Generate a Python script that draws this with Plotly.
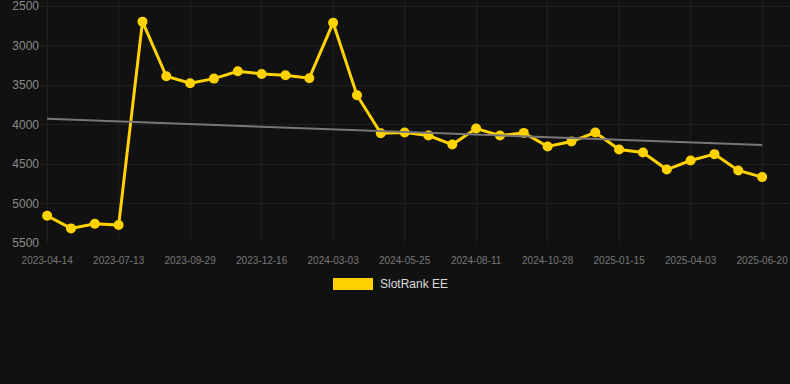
import plotly.graph_objects as go

dates = [
    "2023-04-14", "2023-05-14", "2023-06-13", "2023-07-13", "2023-08-08", "2023-09-03",
    "2023-09-29", "2023-10-25", "2023-11-20", "2023-12-16", "2024-01-11", "2024-02-06",
    "2024-03-03", "2024-03-31", "2024-04-28", "2024-05-25", "2024-06-20", "2024-07-16",
    "2024-08-11", "2024-09-06", "2024-10-02", "2024-10-28", "2024-11-23", "2024-12-20",
    "2025-01-15", "2025-02-10", "2025-03-08", "2025-04-03", "2025-04-29", "2025-05-25",
    "2025-06-20",
]
ranks = [
    5155, 5315, 5256, 5273, 2698, 3389, 3477, 3419, 3326, 3360, 3376, 3414,
    2711, 3629, 4110, 4102, 4140, 4254, 4051, 4140, 4106, 4279, 4216, 4102,
    4317, 4355, 4570, 4456, 4375, 4582, 4666,
]
trend_x = [dates[0], dates[-1]]
trend_y = [3928, 4261]
tick_labels = dates[::3]
y_ticks = [2500, 3000, 3500, 4000, 4500, 5000, 5500]
series_name = "SlotRank EE"

BG = "#111111"
GOLD = "#FFD200"
GRID = "#1f1f1f"

fig = go.Figure()
fig.add_trace(go.Scatter(
    x=dates, y=ranks, mode="lines+markers", name=series_name,
    line=dict(color=GOLD, width=3),
    marker=dict(color=GOLD, size=10),
    showlegend=False, hoverinfo="x+y",
))
fig.add_trace(go.Scatter(
    x=trend_x, y=trend_y, mode="lines",
    line=dict(color="#777777", width=2),
    showlegend=False, hoverinfo="skip",
))

# legend drawn as shape + annotation to mimic the filled swatch
L, R, T, B, W, H = 40, 0, 0, 141, 790, 384
pw = W - L - R
ph = H - T - B
def px(x):
    return (x - L) / pw
def py(y):
    return (H - B - y) / ph

fig.add_shape(type="rect", xref="paper", yref="paper",
              x0=px(333), x1=px(373), y0=py(290), y1=py(278),
              fillcolor=GOLD, line=dict(width=0))
fig.add_annotation(xref="paper", yref="paper", x=px(378), y=py(284),
                   text=series_name, showarrow=False, xanchor="left", yanchor="middle",
                   font=dict(family="Liberation Sans, Arial, sans-serif", size=12, color="#dddddd"))

fig.update_layout(
    width=W, height=H,
    margin=dict(l=L, r=R, t=T, b=B),
    paper_bgcolor=BG, plot_bgcolor=BG,
    font=dict(family="Liberation Sans, Arial, sans-serif"),
    showlegend=False,
    xaxis=dict(
        type="category", categoryorder="array", categoryarray=dates,
        range=[-0.3, 31.17],
        tickmode="array", tickvals=tick_labels, ticktext=tick_labels,
        tickangle=0,
        showgrid=True, gridcolor=GRID, gridwidth=1,
        zeroline=False, showline=False,
        ticks="outside", ticklen=8, tickcolor=BG,
        tickfont=dict(size=10, color="#777777"),
        ticklabeloverflow="allow",
    ),
    yaxis=dict(
        range=[5500, 2424],
        tickmode="array", tickvals=y_ticks,
        showgrid=True, gridcolor=GRID, gridwidth=1,
        zeroline=False, showline=False,
        ticks="", tickfont=dict(size=12, color="#8a8a8a"),
        ticklabeloverflow="allow",
    ),
)

fig.write_html(
    "out.html",
    config={"displayModeBar": False},
    post_script="document.body.style.margin='0';document.body.style.background='#111111';",
)
